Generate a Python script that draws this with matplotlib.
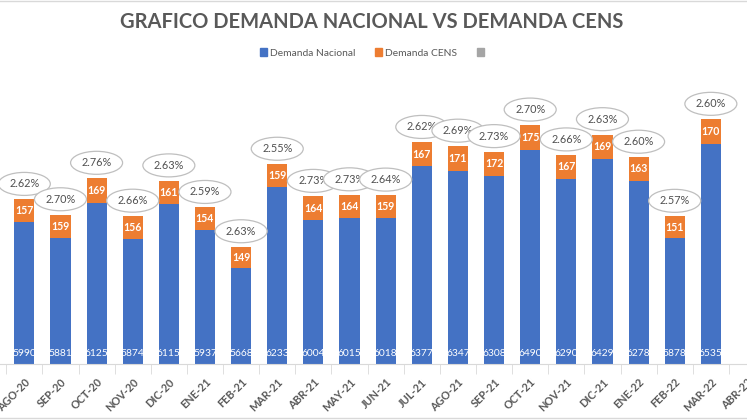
import matplotlib
matplotlib.use("Agg")
import matplotlib.pyplot as plt
from matplotlib.patches import Patch, Ellipse
from matplotlib.transforms import Affine2D, ScaledTranslation
import numpy as np

categories = ["AGO-20", "SEP-20", "OCT-20", "NOV-20", "DIC-20", "ENE-21", "FEB-21",
              "MAR-21", "ABR-21", "MAY-21", "JUN-21", "JUL-21", "AGO-21", "SEP-21",
              "OCT-21", "NOV-21", "DIC-21", "ENE-22", "FEB-22", "MAR-22"]
nacional = [5990, 5881, 6125, 5874, 6115, 5937, 5668, 6233, 6004, 6015, 6018,
            6377, 6347, 6308, 6490, 6290, 6429, 6278, 5878, 6535]
cens = [157, 159, 169, 156, 161, 154, 149, 159, 164, 164, 159,
        167, 171, 172, 175, 167, 169, 163, 151, 170]
porcentaje = ["2.62%", "2.70%", "2.76%", "2.66%", "2.63%", "2.59%", "2.63%",
              "2.55%", "2.73%", "2.73%", "2.64%", "2.62%", "2.69%", "2.73%",
              "2.70%", "2.66%", "2.63%", "2.60%", "2.57%", "2.60%"]
extra_label = "ABR-22"

BLUE = "#4472C4"
ORANGE = "#ED7D31"
GRAY = "#A5A5A5"
TXT = "#595959"
BASE = 5000

plt.rcParams['font.family'] = ['Lato', 'DejaVu Sans']

W, H = 747, 420
fig = plt.figure(figsize=(W / 100, H / 100), dpi=100)
x0_px, spacing = 25.0, 37.16
base_px_top, top_px = 364, 77
ax = fig.add_axes([0, (H - base_px_top) / H, 1, (base_px_top - top_px) / H])

x = np.arange(len(categories))
n_blue = np.array(nacional) - BASE
ax.bar(x, n_blue, bottom=BASE, width=0.557, color=BLUE, zorder=2)
ax.bar(x, cens, bottom=np.array(nacional), width=0.557, color=ORANGE, zorder=2)

ax.set_xlim(-x0_px / spacing, (W - x0_px) / spacing)
ax.set_ylim(BASE, 7000)

for i in range(len(categories)):
    top = nacional[i] + cens[i]
    ax.annotate(str(nacional[i]), (x[i], BASE), xytext=(0, 10), textcoords='offset pixels',
                ha='center', va='center', color='white', fontsize=7.4, zorder=3)
    ax.text(x[i], nacional[i] + cens[i] / 2, str(cens[i]), ha='center', va='center',
            color='white', fontsize=7.6, fontweight='bold', zorder=3)
    tr = Affine2D().translate(0, 15.5) + ScaledTranslation(x[i], top, ax.transData)
    ell = Ellipse((0, 0), 52, 23, transform=tr, fc='white', ec='#BFBFBF', lw=0.9,
                  zorder=4 + i * 0.01, clip_on=False)
    ax.add_artist(ell)
    ax.annotate(porcentaje[i], (x[i], top), xytext=(0, 15.5),
                textcoords='offset pixels', ha='center', va='center', color='#505050',
                fontsize=7.8, zorder=4 + i * 0.01 + 0.005, annotation_clip=False)

for s in ['top', 'left', 'right']:
    ax.spines[s].set_visible(False)
ax.spines['bottom'].set_color('#D9D9D9')
ax.set_yticks([])

ticks = list(x) + [len(categories)]
labels = categories + [extra_label]
ax.set_xticks(ticks)
ax.set_xticklabels(labels, rotation=45, ha='right', rotation_mode='anchor',
                   color=TXT, fontsize=7.8, fontweight='bold')
ax.tick_params(axis='x', length=0, pad=9)
ax.set_xticks(np.arange(-0.5, len(categories) + 0.5, 1), minor=True)
ax.tick_params(axis='x', which='minor', length=7, color='#D9D9D9')

fig.text(0.498, 1 - 22 / H, "GRAFICO DEMANDA NACIONAL VS DEMANDA CENS", ha='center',
         va='center', fontsize=14.5, fontweight='bold', color=TXT)

handles = [Patch(color=BLUE, label='Demanda Nacional'),
           Patch(color=ORANGE, label='Demanda CENS'),
           Patch(color=GRAY, label='')]
fig.legend(handles=handles, loc='center', bbox_to_anchor=(0.5, 1 - 53 / H), ncol=3,
           frameon=False, fontsize=7.4, labelcolor=TXT, handlelength=0.7, handleheight=0.7,
           handletextpad=0.3, columnspacing=1.9)

fig.add_artist(plt.Line2D([0, 1], [1 - 1 / H, 1 - 1 / H], color='#D9D9D9', lw=1))
fig.add_artist(plt.Line2D([0, 1], [2 / H, 2 / H], color='#D9D9D9', lw=1))

fig.savefig("out.png", dpi=100)
